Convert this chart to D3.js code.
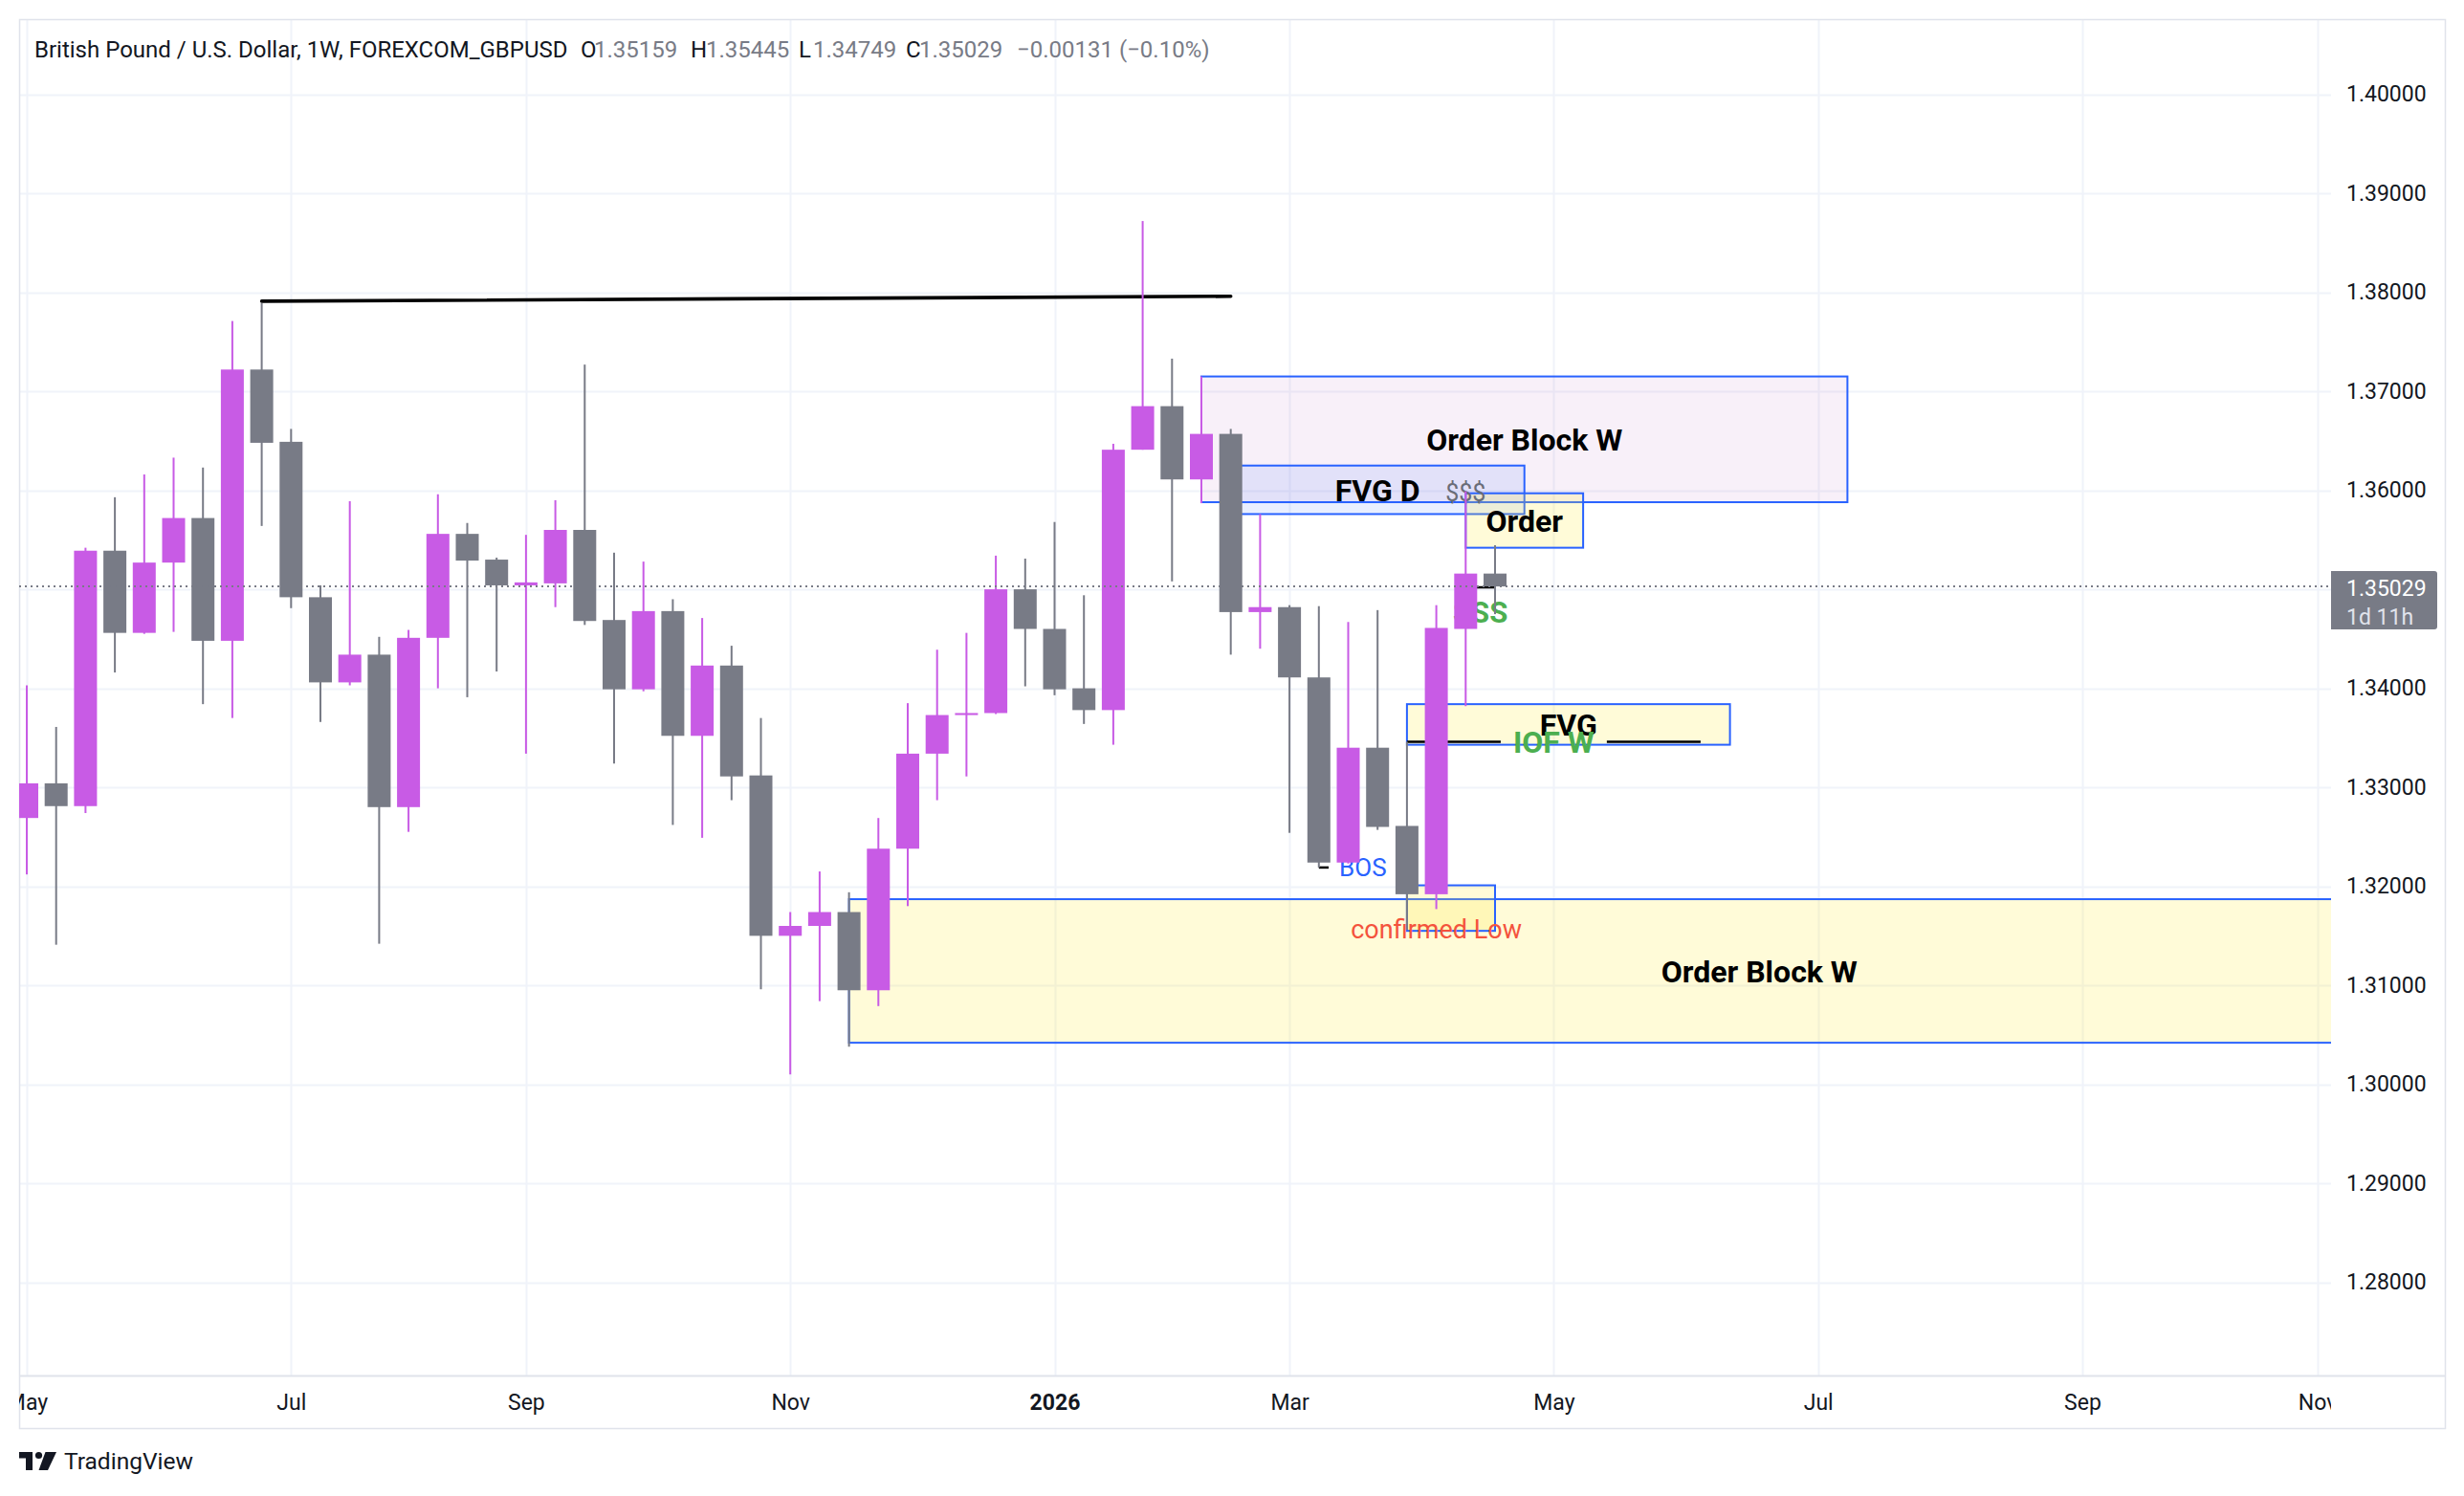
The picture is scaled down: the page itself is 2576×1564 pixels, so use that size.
<!DOCTYPE html>
<html><head><meta charset="utf-8">
<script src="https://cdn.jsdelivr.net/npm/d3@7"></script>
<style>
body{margin:0;background:#fff}
svg{display:block}
text{font-family:Roboto,"Noto Sans",sans-serif}
</style>
</head><body>
<svg id="chart" width="2576" height="1564"></svg>
<script>
// ---------------- DATA ----------------
const dates = ["2025-05-05","2025-05-12","2025-05-19","2025-05-26","2025-06-02","2025-06-09","2025-06-16","2025-06-23","2025-06-30",
"2025-07-07","2025-07-14","2025-07-21","2025-07-28","2025-08-04","2025-08-11","2025-08-18","2025-08-25",
"2025-09-01","2025-09-08","2025-09-15","2025-09-22","2025-09-29","2025-10-06","2025-10-13","2025-10-20","2025-10-27",
"2025-11-03","2025-11-10","2025-11-17","2025-11-24","2025-12-01","2025-12-08","2025-12-15","2025-12-22","2025-12-29",
"2026-01-05","2026-01-12","2026-01-19","2026-01-26","2026-02-02","2026-02-09","2026-02-16","2026-02-23",
"2026-03-02","2026-03-09","2026-03-16","2026-03-23","2026-03-30","2026-04-06","2026-04-13","2026-04-20"];
const opens  = [1.3269,1.3304,1.3281,1.3539,1.3456,1.3527,1.3572,1.3448,1.3722,1.3649,1.3492,1.3406,1.3434,1.3280,1.3451,1.3556,1.3530,
1.3504,1.3506,1.3560,1.3469,1.3399,1.3478,1.3352,1.3423,1.3312,1.3150,1.3160,1.3174,1.3095,1.3238,1.3334,1.3373,1.3375,1.3500,
1.3460,1.3400,1.3378,1.3641,1.3685,1.3611,1.3657,1.3477,1.3482,1.3411,1.3224,1.3340,1.3261,1.3192,1.3460,1.35159];
const highs  = [1.3403,1.3361,1.3542,1.3593,1.3616,1.3633,1.3623,1.3771,1.3789,1.3662,1.3504,1.3589,1.3452,1.3459,1.3596,1.3567,1.3532,
1.3555,1.3590,1.3727,1.3537,1.3528,1.3490,1.3471,1.3443,1.3370,1.3174,1.3215,1.3194,1.3269,1.3385,1.3439,1.3456,1.3534,1.3531,
1.3568,1.3494,1.3647,1.3872,1.3733,1.3715,1.3662,1.3576,1.3484,1.3483,1.3467,1.3479,1.3346,1.3484,1.3599,1.35445];
const lows   = [1.3212,1.3141,1.3274,1.3416,1.3455,1.3457,1.3384,1.3370,1.3564,1.3481,1.3366,1.3403,1.3142,1.3255,1.3400,1.3391,1.3417,
1.3334,1.3482,1.3464,1.3324,1.3397,1.3262,1.3249,1.3287,1.3096,1.3010,1.3084,1.3038,1.3079,1.3180,1.3287,1.3311,1.3374,1.3402,
1.3393,1.3364,1.3343,1.3641,1.3508,1.3587,1.3434,1.3440,1.3254,1.3219,1.3223,1.3257,1.3156,1.3177,1.3382,1.34749];
const closes = [1.3304,1.3281,1.3539,1.3456,1.3527,1.3572,1.3448,1.3722,1.3648,1.3492,1.3406,1.3434,1.3280,1.3451,1.3556,1.3529,1.3504,
1.3507,1.3560,1.3468,1.3399,1.3478,1.3352,1.3423,1.3311,1.3150,1.3160,1.3174,1.3095,1.3238,1.3334,1.3373,1.3375,1.3500,1.3460,
1.3399,1.3378,1.3641,1.3685,1.3611,1.3657,1.3477,1.3482,1.3411,1.3224,1.3340,1.3260,1.3192,1.3461,1.35159,1.35029];

const priceTicks = [1.28,1.29,1.30,1.31,1.32,1.33,1.34,1.35,1.36,1.37,1.38,1.39,1.40];
const gridPrices = [1.28,1.29,1.30,1.31,1.32,1.33,1.34,1.35,1.36,1.37,1.38,1.39,1.40];
const timeTickDates  = ["2025-05-05","2025-07-07","2025-09-01","2025-11-03","2026-01-05","2026-03-02","2026-05-04","2026-07-06","2026-09-07","2026-11-02"];
const timeTickLabels = ["May","Jul","Sep","Nov","2026","Mar","May","Jul","Sep","Nov"];
const timeDomain = ["2025-05-05","2026-11-02"];
const priceDomain = [1.28, 1.40];

const lastPrice = 1.35029;
const countdown = "1d 11h";
const headerTitle = "British Pound / U.S. Dollar, 1W, FOREXCOM_GBPUSD";
const headerKeys = ["O","H","L","C"];
const headerVals = ["1.35159","1.35445","1.34749","1.35029"];
const headerChange = "\u22120.00131 (\u22120.10%)";

// drawings (dates / prices)
const boxes = [
  {start:"2025-11-17", end:"2027-01-25", top:1.3187, bottom:1.3042, kind:"yellow", label:"Order Block W"},
  {start:"2026-02-09", end:"2026-07-13", top:1.3715, bottom:1.3588, kind:"pink",   label:"Order Block W"},
  {start:"2026-02-16", end:"2026-04-27", top:1.3625, bottom:1.3576, kind:"blue",   label:"FVG D"},
  {start:"2026-04-13", end:"2026-05-11", top:1.3597, bottom:1.3542, kind:"yellow", label:"Order"},
  {start:"2026-03-30", end:"2026-06-15", top:1.3384, bottom:1.3343, kind:"yellow", label:"FVG"},
  {start:"2026-03-30", end:"2026-04-20", top:1.3201, bottom:1.3155, kind:"yellow", label:""}
];
const trendLine = {start:"2025-06-30", end:"2026-02-16", p1:1.3791, p2:1.3796};
const labeledLines = [
  {start:"2026-03-30", end:"2026-06-08", price:1.3346, label:"IOF W", color:"green", bold:true},
  {start:"2026-03-09", end:"2026-03-30", price:1.3219, label:"BOS",   color:"blue",  bold:false}
];
const ssLine = {start:"2026-04-13", end:"2026-04-20", price:1.3502, label:"SSS", labelPrice:1.3477};
const textNotes = [
  {date:"2026-04-13", price:1.3598, label:"$$$", color:"gray"},
  {date:"2026-04-06", price:1.3157, label:"confirmed Low", color:"red"}
];

// ---------------- STYLE ----------------
const UP = "#c85be5", DOWN = "#787b86", BLUE = "#2962ff", GREEN = "#4caf50", RED = "#f4533d", TXT = "#131722";
const fills = {yellow:"rgba(255,235,59,0.2)", pink:"rgba(186,104,200,0.1)", blue:"rgba(41,98,255,0.1)"};
const textColors = {green:GREEN, blue:BLUE, gray:"#6a6d78", red:RED};

const W = 2576, H = 1564;
const plotL = 20, plotR = 2437, plotT = 20, plotB = 1438, axisB = 1493, frameR = 2556;

const parse = d3.utcParse("%Y-%m-%d");
const x = d3.scaleUtc().domain(timeDomain.map(parse)).range([28, 28 + 78 * 30.7]);
const y = d3.scaleLinear().domain(priceDomain).range([1340.6, 98.6]);

const svg = d3.select("#chart");
svg.append("rect").attr("width", W).attr("height", H).attr("fill", "#fff");

const defs = svg.append("defs");
defs.append("clipPath").attr("id", "plotClip").append("rect")
  .attr("x", plotL).attr("y", plotT).attr("width", plotR - plotL).attr("height", plotB - plotT);
defs.append("clipPath").attr("id", "xClip").append("rect")
  .attr("x", plotL).attr("y", plotB).attr("width", plotR - plotL).attr("height", axisB - plotB);

// grid
const grid = svg.append("g").attr("clip-path", "url(#plotClip)");
grid.selectAll("line.h").data(gridPrices).join("line")
  .attr("x1", plotL).attr("x2", plotR).attr("y1", d => Math.round(y(d)) + 0.5).attr("y2", d => Math.round(y(d)) + 0.5)
  .attr("stroke", "#f0f3fa").attr("stroke-width", 2);
grid.selectAll("line.v").data(timeTickDates).join("line")
  .attr("y1", plotT).attr("y2", plotB).attr("x1", d => Math.round(x(parse(d))) + 0.5).attr("x2", d => Math.round(x(parse(d))) + 0.5)
  .attr("stroke", "#f0f3fa").attr("stroke-width", 2);

// frame
svg.append("rect").attr("x", plotL + 0.5).attr("y", plotT + 0.5).attr("width", frameR - plotL).attr("height", axisB - plotT)
  .attr("fill", "none").attr("stroke", "#e0e3eb").attr("stroke-width", 1.5);
svg.append("line").attr("x1", plotL).attr("x2", frameR).attr("y1", plotB + 0.5).attr("y2", plotB + 0.5)
  .attr("stroke", "#e0e3eb").attr("stroke-width", 2);

// ---------------- DRAWINGS ----------------
const dr = svg.append("g").attr("clip-path", "url(#plotClip)");

boxes.forEach(b => {
  const x0 = x(parse(b.start)), x1 = x(parse(b.end)), y0 = y(b.top), y1 = y(b.bottom);
  dr.append("rect").attr("x", x0).attr("y", y0).attr("width", x1 - x0).attr("height", y1 - y0)
    .attr("fill", fills[b.kind]).attr("stroke", BLUE).attr("stroke-width", 2);
});
boxes.forEach(b => {
  if (!b.label) return;
  const x0 = x(parse(b.start)), x1 = x(parse(b.end)), y0 = y(b.top), y1 = y(b.bottom);
  dr.append("text").attr("x", (x0 + x1) / 2).attr("y", (y0 + y1) / 2).attr("dy", "0.36em")
    .attr("text-anchor", "middle").attr("font-size", 32).attr("font-weight", 700).attr("fill", "#000").text(b.label);
});

// trend line
dr.append("line").attr("x1", x(parse(trendLine.start))).attr("x2", x(parse(trendLine.end)))
  .attr("y1", y(trendLine.p1)).attr("y2", y(trendLine.p2)).attr("stroke", "#000").attr("stroke-width", 3.6)
  .attr("stroke-linecap", "round");

// labeled lines (text breaks the line)
labeledLines.forEach(l => {
  const x0 = x(parse(l.start)), x1 = x(parse(l.end)), yy = y(l.price), mid = (x0 + x1) / 2;
  const t = dr.append("text").attr("x", mid).attr("y", yy).attr("dy", "0.36em").attr("text-anchor", "middle")
    .attr("font-size", l.bold ? 32 : 26).attr("font-weight", l.bold ? 700 : 400).attr("fill", textColors[l.color]).text(l.label);
  const w = t.node().getComputedTextLength();
  const gap = l.bold ? 13 : 11;
  dr.insert("line", "text").attr("x1", x0).attr("x2", mid - w / 2 - gap).attr("y1", yy).attr("y2", yy)
    .attr("stroke", "#000").attr("stroke-width", 2.5);
  dr.insert("line", "text").attr("x1", mid + w / 2 + gap).attr("x2", x1).attr("y1", yy).attr("y2", yy)
    .attr("stroke", "#000").attr("stroke-width", 2.5);
});

// SSS line + label
{
  const x0 = x(parse(ssLine.start)), x1 = x(parse(ssLine.end));
  dr.append("line").attr("x1", x0).attr("x2", x1).attr("y1", y(ssLine.price)).attr("y2", y(ssLine.price))
    .attr("stroke", "#000").attr("stroke-width", 2.5);
  dr.append("text").attr("x", (x0 + x1) / 2).attr("y", y(ssLine.labelPrice)).attr("dy", "0.36em")
    .attr("text-anchor", "middle").attr("font-size", 31).attr("font-weight", 700).attr("fill", GREEN).text(ssLine.label);
}

// text notes
textNotes.forEach(n => {
  dr.append("text").attr("x", x(parse(n.date))).attr("y", y(n.price)).attr("dy", "0.36em")
    .attr("text-anchor", "middle").attr("font-size", n.color === "red" ? 27 : 25)
    .attr("fill", textColors[n.color]).text(n.label);
});

// ---------------- CANDLES ----------------
const bars = dates.map((d, i) => ({date: parse(d), o: opens[i], h: highs[i], l: lows[i], c: closes[i]}));
const cg = svg.append("g").attr("clip-path", "url(#plotClip)");
const bodyW = 24, wickW = 2;
const cs = cg.selectAll("g.candle").data(bars).join("g").attr("class", "candle");
cs.append("rect")
  .attr("x", d => x(d.date) - wickW / 2).attr("width", wickW)
  .attr("y", d => y(d.h)).attr("height", d => y(d.l) - y(d.h))
  .attr("fill", d => d.c >= d.o ? UP : DOWN);
cs.append("rect")
  .attr("x", d => x(d.date) - bodyW / 2).attr("width", bodyW)
  .attr("y", d => y(Math.max(d.o, d.c)))
  .attr("height", d => Math.max(2, Math.abs(y(d.o) - y(d.c))))
  .attr("fill", d => d.c >= d.o ? UP : DOWN);

// current price dotted line
cg.append("line").attr("x1", plotL).attr("x2", plotR).attr("y1", y(lastPrice)).attr("y2", y(lastPrice))
  .attr("stroke", DOWN).attr("stroke-width", 2).attr("stroke-dasharray", "2,4");

// ---------------- AXES ----------------
const yAxis = d3.axisRight(y).tickValues(priceTicks).tickFormat(d3.format(".5f")).tickSize(0).tickPadding(16);
const yg = svg.append("g").attr("transform", `translate(${plotR},0)`).call(yAxis);
yg.select(".domain").remove();
yg.selectAll("text").attr("font-size", 23).attr("fill", TXT).attr("font-family", "Roboto");

const xAxis = d3.axisBottom(x).tickValues(timeTickDates.map(parse)).tickFormat((d, i) => timeTickLabels[i]).tickSize(0);
const xWrap = svg.append("g").attr("clip-path", "url(#xClip)");
const xg = xWrap.append("g").attr("transform", `translate(0,${plotB})`).call(xAxis);
xg.select(".domain").remove();
xg.selectAll("text").attr("y", 28).attr("dy", "0.36em").attr("font-size", 23).attr("fill", TXT).attr("font-family", "Roboto")
  .attr("font-weight", (d, i) => timeTickLabels[i] === "2026" ? 700 : 400);

// price label
{
  const py = y(lastPrice);
  const pathD = `M${plotR},${py - 16} H${2545} Q${2548},${py - 16} ${2548},${py - 13} V${py + 42} Q${2548},${py + 45} ${2545},${py + 45} H${plotR} Z`;
  svg.append("path").attr("d", pathD).attr("fill", DOWN);
  svg.append("text").attr("x", 2453).attr("y", py + 2).attr("dy", "0.36em").attr("font-size", 23).attr("fill", "#fff").text(d3.format(".5f")(lastPrice));
  svg.append("text").attr("x", 2453).attr("y", py + 32).attr("dy", "0.36em").attr("font-size", 23).attr("fill", "#e0e3eb").text(countdown);
}

// ---------------- HEADER ----------------
{
  const hy = 51;
  const hg = svg.append("g").attr("font-size", 24);
  hg.append("text").attr("x", 36).attr("y", hy).attr("dy", "0.36em").attr("fill", TXT).text(headerTitle);
  const keyX = [607, 722, 835, 947], valX = [621, 738, 850, 961];
  headerKeys.forEach((k, i) => {
    hg.append("text").attr("x", keyX[i]).attr("y", hy).attr("dy", "0.36em").attr("fill", TXT).text(k);
    hg.append("text").attr("x", valX[i]).attr("y", hy).attr("dy", "0.36em").attr("fill", DOWN).text(headerVals[i]);
  });
  hg.append("text").attr("x", 1063).attr("y", hy).attr("dy", "0.36em").attr("fill", DOWN).text(headerChange);
}

// ---------------- LOGO ----------------
{
  const lg = svg.append("g").attr("fill", TXT);
  lg.append("path").attr("d", "M20,1518 H34 V1537 H27 V1524.5 H20 Z");
  lg.append("circle").attr("cx", 40.5).attr("cy", 1521.5).attr("r", 3.6);
  lg.append("path").attr("d", "M47.5,1518 H59 L50,1537 H40.5 Z");
  lg.append("text").attr("x", 67).attr("y", 1535.5).attr("font-size", 24.5).attr("fill", TXT).text("TradingView");
}
</script>
</body></html>
